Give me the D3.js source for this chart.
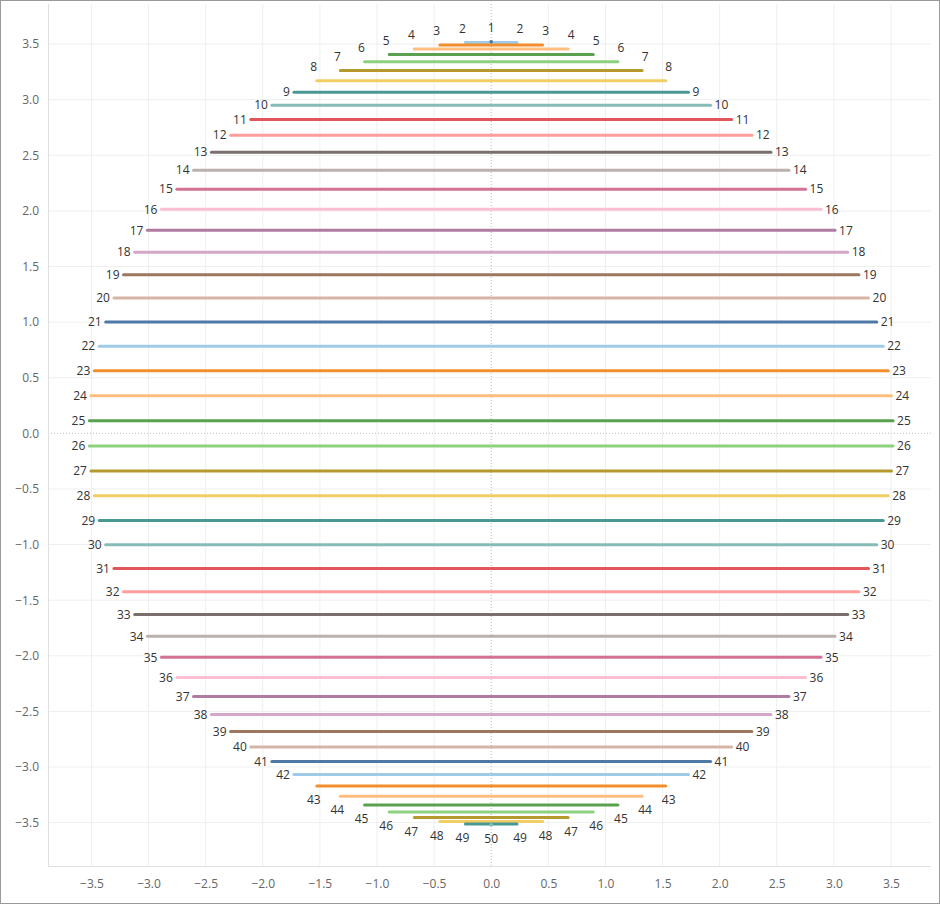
<!DOCTYPE html>
<html><head><meta charset="utf-8">
<script src="https://cdn.jsdelivr.net/npm/d3@7"></script>
<style>body{margin:0;background:#fff;font-family:"Open Sans",Arial,sans-serif}</style>
</head><body><svg id="c" width="940" height="904"></svg>
<script>
const ids = d3.range(1, 51);
const yValues = [3.520,3.513,3.491,3.455,3.405,3.341,3.263,3.171,3.067,2.950,2.821,2.680,2.528,2.366,2.195,2.014,1.825,1.628,1.425,1.216,1.002,0.783,0.562,0.338,0.113,
 -0.113,-0.338,-0.562,-0.783,-1.002,-1.216,-1.425,-1.628,-1.825,-2.014,-2.195,-2.366,-2.528,-2.680,-2.821,-2.950,-3.067,-3.171,-3.263,-3.341,-3.405,-3.455,-3.491,-3.513,-3.520];
const halfWidths = [0,0.226,0.450,0.673,0.893,1.109,1.321,1.527,1.727,1.920,2.105,2.282,2.449,2.606,2.752,2.887,3.010,3.121,3.219,3.303,3.375,3.432,3.475,3.504,3.518,
 3.518,3.504,3.475,3.432,3.375,3.303,3.219,3.121,3.010,2.887,2.752,2.606,2.449,2.282,2.105,1.920,1.727,1.527,1.321,1.109,0.893,0.673,0.450,0.226,0];
const tickValues = [-3.5,-3,-2.5,-2,-1.5,-1,-0.5,0,0.5,1,1.5,2,2.5,3,3.5];
const palette = ["#4e79a7","#a0cbe8","#f28e2b","#ffbe7d","#59a14f","#8cd17d","#b6992d","#f1ce63","#499894","#86bcb6","#e15759","#ff9d9a","#79706e","#bab0ac","#d37295","#fabfd2","#b07aa1","#d4a6c8","#9d7660","#d7b5a6"];

const svg = d3.select("#c");
const L=48,R=931,T=4,B=866;
const x = d3.scaleLinear().domain([-3.88,3.85]).range([L,R]);
const y = d3.scaleLinear().domain([3.86,-3.89]).range([T,B]);
const color = i => palette[(i-1)%20];

svg.append("rect").attr("x",0.5).attr("y",0.5).attr("width",939).attr("height",903).attr("fill","none").attr("stroke","#9a9a9a");
const g = svg.append("g");
tickValues.forEach(v=>{
  g.append("line").attr("x1",x(v)).attr("x2",x(v)).attr("y1",T).attr("y2",B).attr("stroke",v===0?"#bbb":"#efefef").attr("stroke-dasharray",v===0?"1,2":null);
  g.append("line").attr("y1",y(v)).attr("y2",y(v)).attr("x1",L).attr("x2",R).attr("stroke",v===0?"#bbb":"#efefef").attr("stroke-dasharray",v===0?"1,2":null);
});
g.append("line").attr("x1",L+0.5).attr("x2",L+0.5).attr("y1",T).attr("y2",B).attr("stroke","#e0e0e0");
g.append("line").attr("x1",L).attr("x2",R).attr("y1",B+0.5).attr("y2",B+0.5).attr("stroke","#e0e0e0");

const fmt = d3.format(".1f");
const ax = svg.append("g").attr("transform",`translate(0,${B})`).call(d3.axisBottom(x).tickValues(tickValues).tickFormat(fmt).tickSize(0).tickPadding(13));
const ay = svg.append("g").attr("transform",`translate(${L},0)`).call(d3.axisLeft(y).tickValues(tickValues).tickFormat(fmt).tickSize(0).tickPadding(9));
[ax,ay].forEach(a=>{a.select(".domain").remove();a.selectAll("text").attr("fill","#666").style("font-size","12px").style("font-family","Open Sans, Arial, sans-serif");});

const data = ids.map((id,k)=>({id, y:yValues[k], w:halfWidths[k]}));
svg.append("g").selectAll("line").data(data).join("line")
  .attr("x1",d=>x(-d.w)).attr("x2",d=>x(d.w)).attr("y1",d=>y(d.y)).attr("y2",d=>y(d.y))
  .attr("stroke",d=>color(d.id)).attr("stroke-width",3).attr("stroke-linecap","round");
svg.append("g").selectAll("circle").data(data.filter(d=>d.w===0)).join("circle")
  .attr("cx",d=>x(0)).attr("cy",d=>y(d.y)).attr("r",1.8).attr("fill",d=>color(d.id));

const lab = svg.append("g").style("font-size","12px").attr("fill","#333");
data.forEach(d=>{
  const px=y(d.y);
  if(d.w===0){
    lab.append("text").attr("x",x(0)).attr("y",px+(d.y>0?-10:18)).attr("text-anchor","middle").text(d.id);
    return;
  }
  const vert = d.id<=8 ? -14 : d.id>=43 ? 14 : 0;
  [-1,1].forEach(s=>{
    const ex=x(s*d.w);
    if(vert!==0){
      lab.append("text").attr("x",ex+s*3).attr("y",px+vert).attr("dy","0.35em").attr("text-anchor","middle").text(d.id);
    } else {
      lab.append("text").attr("x",ex+s*4).attr("y",px).attr("dy","0.35em").attr("text-anchor",s<0?"end":"start").text(d.id);
    }
  });
});
</script></body></html>
